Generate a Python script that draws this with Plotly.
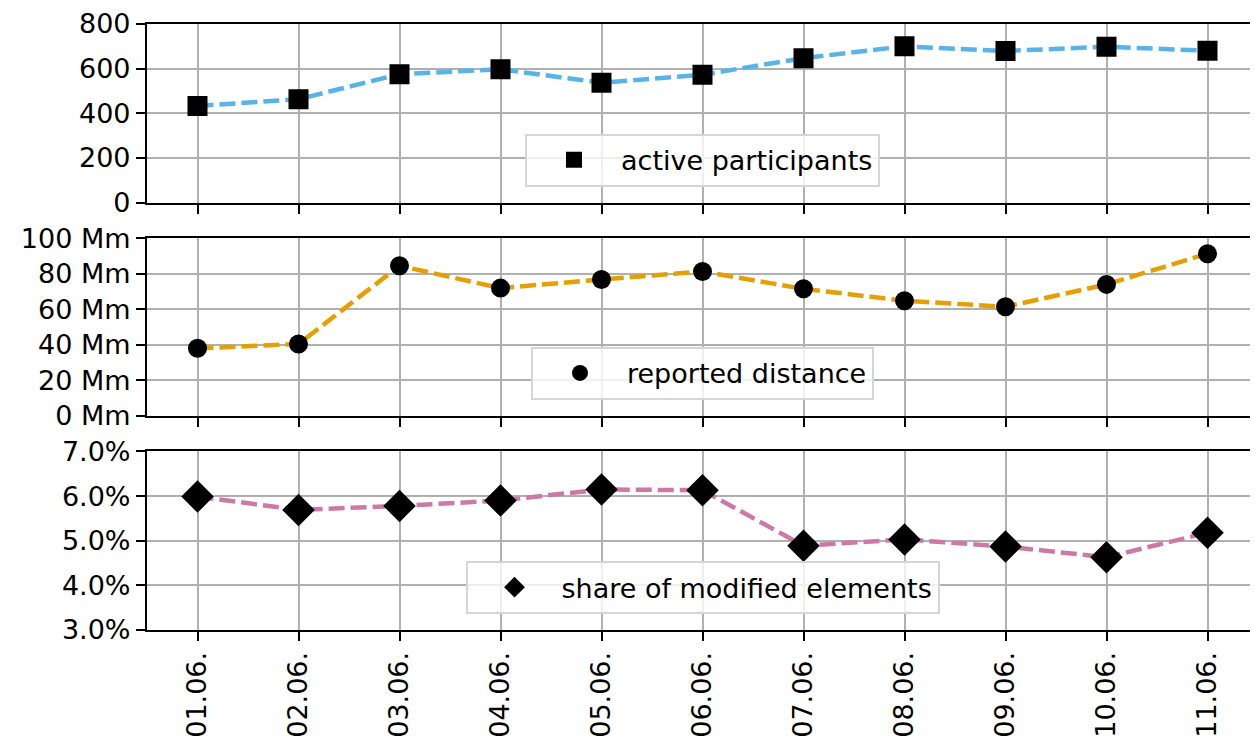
import plotly.graph_objects as go
from plotly.subplots import make_subplots

# ── Data ──────────────────────────────────────────────────────────────────────
days = ["01.06.", "02.06.", "03.06.", "04.06.", "05.06.", "06.06.",
        "07.06.", "08.06.", "09.06.", "10.06.", "11.06."]
participants = [433, 463, 575, 597, 537, 573, 647, 700, 679, 698, 680]
distance_mm = [38.0, 40.4, 84.5, 71.9, 76.8, 81.3, 71.5, 64.8, 61.4, 74.0, 91.3]
modified_pct = [5.99, 5.69, 5.78, 5.90, 6.15, 6.13, 4.89, 5.03, 4.87, 4.63, 5.18]

labels = ["active participants", "reported distance", "share of modified elements"]
colors = ["#56B4E9", "#E69F00", "#CC79A7"]
symbols = ["square", "circle", "diamond"]
marker_sizes = [20, 19, 25]

# ── Style ─────────────────────────────────────────────────────────────────────
FONT = dict(family="DejaVu Sans, sans-serif", size=27, color="black")
GRID = "#b0b0b0"
x_idx = list(range(len(days)))

fig = make_subplots(rows=3, cols=1, shared_xaxes=True)

series = [participants, distance_mm, modified_pct]
for i, vals in enumerate(series):
    row = i + 1
    lg = "legend" if i == 0 else f"legend{i + 1}"
    fig.add_trace(go.Scatter(
        x=x_idx, y=vals, mode="lines", showlegend=False,
        line=dict(color=colors[i], width=4.5, dash="16px,6px"),
    ), row=row, col=1)
    fig.add_trace(go.Scatter(
        x=x_idx, y=vals, mode="markers", name=labels[i], legend=lg,
        marker=dict(symbol=symbols[i], color="black", size=marker_sizes[i],
                    line=dict(width=0)),
    ), row=row, col=1)

# panel domains (paper fractions, from bottom)
H_PLOT = 611
domains = [[0.7054, 1.0], [0.3535, 0.6465], [0.0, 0.2946]]
for i, dom in enumerate(domains):
    fig.update_yaxes(domain=dom, row=i + 1, col=1)

axis_common = dict(
    showline=True, linecolor="black", linewidth=2.2,
    showgrid=True, gridcolor=GRID, gridwidth=2,
    ticks="outside", ticklen=9, tickwidth=2.2, tickcolor="black",
    zeroline=False, tickfont=FONT,
)

fig.update_xaxes(
    **axis_common, mirror=True, range=[-0.5, 10.5],
    tickmode="array", tickvals=x_idx, ticktext=days,
)
fig.update_xaxes(showticklabels=False, row=1, col=1)
fig.update_xaxes(showticklabels=False, row=2, col=1)
fig.update_xaxes(tickangle=-90, row=3, col=1)

fig.update_yaxes(**axis_common)
fig.update_yaxes(range=[0, 800], tick0=0, dtick=200, row=1, col=1)
fig.update_yaxes(range=[0, 100], tick0=0, dtick=20,
                 ticksuffix=" Mm", row=2, col=1)
fig.update_yaxes(range=[3, 7], tick0=3, dtick=1,
                 tickformat=".1f", ticksuffix="%", row=3, col=1)

legend_style = dict(
    x=0.5, xanchor="center", yanchor="bottom",
    bgcolor="rgba(255,255,255,0.8)", bordercolor="#d6d6d6", borderwidth=2,
    font=FONT, itemsizing="trace", itemwidth=84,
)
gap = 16 / H_PLOT
# the page body adds an 8px margin, so the figure is 8px smaller than the window
fig.update_layout(
    legend=dict(**legend_style, y=domains[0][0] + gap),
    legend2=dict(**legend_style, y=domains[1][0] + gap),
    legend3=dict(**legend_style, y=domains[2][0] + gap),
    width=1250, height=732,
    margin=dict(l=139, r=0, t=11, b=110),
    paper_bgcolor="white", plot_bgcolor="white",
    font=FONT,
)

fig.write_html("out.html")
